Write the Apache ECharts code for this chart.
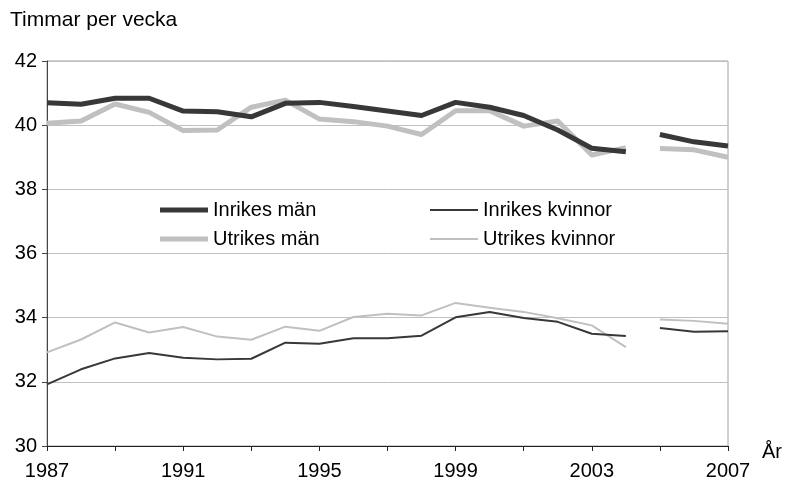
<!DOCTYPE html>
<html>
<head>
<meta charset="utf-8">
<script src="https://cdn.jsdelivr.net/npm/echarts@6/dist/echarts.min.js"></script>
<style>
  html, body { margin: 0; padding: 0; background: #fff; }
  #chart { width: 785px; height: 487px; }
</style>
</head>
<body>
<div id="chart"></div>
<script>
// Arbetad tid per vecka, 1987–2007
const years = [1987, 1988, 1989, 1990, 1991, 1992, 1993, 1994, 1995, 1996, 1997,
               1998, 1999, 2000, 2001, 2002, 2003, 2004, 2005, 2006, 2007];

const inrikesMan     = [40.70, 40.65, 40.84, 40.84, 40.44, 40.42, 40.26, 40.68, 40.71, 40.58, 40.44,
                        40.30, 40.71, 40.56, 40.30, 39.85, 39.28, 39.17, 39.71, 39.48, 39.35];
const utrikesMan     = [40.06, 40.13, 40.66, 40.40, 39.83, 39.85, 40.56, 40.78, 40.19, 40.11, 39.97,
                        39.71, 40.45, 40.45, 39.97, 40.13, 39.07, 39.30, 39.27, 39.23, 39.00];
const inrikesKvinnor = [31.92, 32.39, 32.73, 32.90, 32.75, 32.70, 32.72, 33.22, 33.19, 33.36, 33.36,
                        33.44, 34.01, 34.18, 33.99, 33.87, 33.50, 33.43, 33.68, 33.56, 33.58];
const utrikesKvinnor = [32.92, 33.32, 33.85, 33.54, 33.71, 33.41, 33.31, 33.72, 33.59, 34.02, 34.12,
                        34.07, 34.46, 34.31, 34.18, 33.98, 33.76, 33.08, 33.94, 33.90, 33.81];

// Serierna bryts mellan 2004 och 2005
const lastYearBeforeBreak = 2004;

const yTicks = [30, 32, 34, 36, 38, 40, 42];
const xLabelYears = [1987, 1991, 1995, 1999, 2003, 2007];

const FONT = 'Liberation Sans, Arial, sans-serif';
const FS = 20;
const DARK = '#383838';
const LIGHT = '#c0c0c0';
const THICK = 5;
const THIN = 2;

function segments(values) {
  const before = [], after = [];
  years.forEach((y, i) => {
    (y <= lastYearBeforeBreak ? before : after).push([y, values[i]]);
  });
  return [before, after];
}

function makeSeries(name, values, color, width) {
  return segments(values).map(seg => ({
    name: name,
    type: 'line',
    data: seg,
    symbol: 'none',
    silent: true,
    lineStyle: { color: color, width: width, cap: 'butt', join: 'round' },
    itemStyle: { color: color },
    z: width > 3 ? 3 : 4
  }));
}

const series = [].concat(
  makeSeries('Utrikes män', utrikesMan, LIGHT, THICK),
  makeSeries('Inrikes män', inrikesMan, DARK, THICK),
  makeSeries('Utrikes kvinnor', utrikesKvinnor, LIGHT, THIN),
  makeSeries('Inrikes kvinnor', inrikesKvinnor, DARK, THIN)
);

// En legendpost per komponent så att strecket får seriens tjocklek
function legendItem(name, color, width, left, centerY) {
  return {
    left: left,
    top: centerY - 12,
    height: 24,
    itemWidth: 48,
    itemHeight: width,
    icon: 'rect',
    itemGap: 0,
    selectedMode: false,
    data: [{ name: name, itemStyle: { color: color } }],
    textStyle: { fontFamily: FONT, fontSize: FS, color: '#000', padding: [0, 0, 0, 0], lineHeight: 24 }
  };
}

const chart = echarts.init(document.getElementById('chart'), null, { renderer: 'canvas' });
chart.setOption({
  animation: false,
  backgroundColor: '#fff',
  title: {
    text: 'Timmar per vecka',
    left: 5,
    top: 5,
    textStyle: { fontFamily: FONT, fontSize: 21, fontWeight: 'normal', color: '#000' }
  },
  legend: [
    legendItem('Inrikes män', DARK, THICK, 155, 205),
    legendItem('Utrikes män', LIGHT, THICK, 155, 234),
    legendItem('Inrikes kvinnor', DARK, THIN, 425, 205),
    legendItem('Utrikes kvinnor', LIGHT, THIN, 425, 234)
  ],
  grid: {
    left: 47, right: 57, top: 61, bottom: 41,
    show: true,
    borderColor: '#a0a0a0',
    borderWidth: 1
  },
  xAxis: {
    type: 'value',
    min: years[0],
    max: years[years.length - 1],
    interval: 2,
    name: 'År',
    nameLocation: 'end',
    nameGap: 34,
    nameTextStyle: { fontFamily: FONT, fontSize: FS, color: '#000', verticalAlign: 'top', lineHeight: 12 },
    axisLine: { lineStyle: { color: '#222', width: 1 } },
    axisTick: { show: true, length: 5, lineStyle: { color: '#222' } },
    splitLine: { show: false },
    axisLabel: {
      fontFamily: FONT, fontSize: FS, color: '#000', margin: 15,
      formatter: v => xLabelYears.indexOf(v) >= 0 ? String(v) : ''
    }
  },
  yAxis: {
    type: 'value',
    min: yTicks[0],
    max: yTicks[yTicks.length - 1],
    interval: 2,
    axisLine: { show: true, lineStyle: { color: '#444', width: 1 } },
    axisTick: { show: true, length: 5, lineStyle: { color: '#444' } },
    splitLine: { show: true, lineStyle: { color: '#c0c0c0', width: 1 } },
    axisLabel: { fontFamily: FONT, fontSize: FS, color: '#000', margin: 10 }
  },
  series: series
});
</script>
</body>
</html>
